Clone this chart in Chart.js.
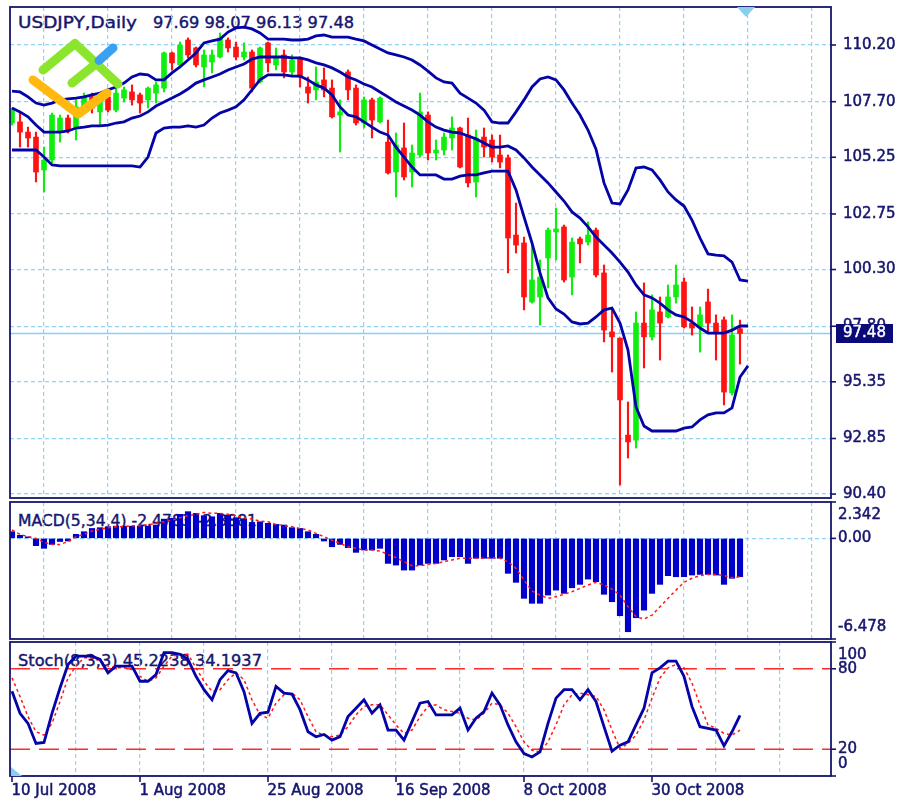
<!DOCTYPE html>
<html>
<head>
<meta charset="utf-8">
<script src="https://cdn.jsdelivr.net/npm/chart.js@4.4.1/dist/chart.umd.min.js"></script>
<style>
  body { margin: 0; background: #fff; }
  #wrap { position: relative; width: 898px; height: 801px; overflow: hidden; }
  #wrap canvas, #wrap svg { position: absolute; left: 0; }
  .ttl { font-family: "DejaVu Sans"; font-size: 15px; fill: #16166e; stroke: #16166e; stroke-width: 0.4; }
</style>
</head>
<body>
<div id="wrap">
  <svg id="titles" width="898" height="801" style="top:0">
    <text class="ttl" x="18" y="28" textLength="119" lengthAdjust="spacingAndGlyphs">USDJPY,Daily</text>
    <text class="ttl" id="ohlcTitle" x="153" y="28" textLength="201" lengthAdjust="spacingAndGlyphs"></text>
    <text class="ttl" x="18" y="526" textLength="239" lengthAdjust="spacingAndGlyphs">MACD(5,34,4) -2.4783 -2.3881</text>
    <text class="ttl" x="18" y="666" textLength="244" lengthAdjust="spacingAndGlyphs">Stoch(8,3,3) 45.2238 34.1937</text>
  </svg>
  <canvas id="priceChart" width="898" height="500" style="top:0"></canvas>
  <canvas id="macdChart" width="898" height="140" style="top:500px"></canvas>
  <canvas id="stochChart" width="898" height="161" style="top:640px"></canvas>
  <svg id="logo" width="898" height="801" style="top:0">
    <g fill="none" stroke-linecap="round" stroke-linejoin="round" stroke-width="9">
      <path d="M43 70 L75 43.5 L118 84" stroke="#8be52c"/>
      <path d="M72 83 L97 63" stroke="#8be52c"/>
      <path d="M99 60.5 L113 48" stroke="#3aa0f0"/>
      <path d="M33 80 L78 114 L107 93" stroke="#ffb90f"/>
    </g>
  </svg>
</div>
<script>
// daily USDJPY candles, one per trading day starting 10 Jul 2008
const opens = [106.76,106.81,106.36,106.14,104.69,105.13,106.36,106.98,106.58,107.33,107.91,107.25,107.91,107.33,107.86,108.13,108.00,107.78,108.08,108.30,
  109.85,109.32,110.42,110.07,109.23,109.45,109.67,110.42,110.11,109.67,109.89,108.57,110.29,109.32,109.76,109.01,109.63,108.35,108.22,108.66,
  108.30,107.11,109.01,108.30,106.76,107.78,106.81,105.92,104.60,105.66,104.60,105.35,107.11,105.44,105.57,106.10,106.54,106.23,104.16,106.14,
  106.01,105.35,105.22,101.82,101.47,98.87,99.09,100.81,101.96,102.18,99.97,101.65,101.51,102.04,100.15,97.55,97.28,93.00,92.78,97.94,
  97.33,98.43,98.21,99.09,99.75,97.94,97.77,98.87,97.94,98.08,94.86,97.69];
const highs = [107.42,107.25,106.58,106.36,105.70,107.20,107.11,107.11,107.78,108.08,108.08,107.91,108.22,108.35,108.35,108.44,108.08,108.35,108.57,109.89,
  109.89,110.33,110.51,110.11,109.98,109.98,110.73,110.51,110.33,110.29,109.98,110.11,110.33,110.07,109.98,109.76,109.67,108.79,109.23,109.19,
  108.66,107.78,109.10,108.44,107.91,107.86,107.91,106.89,106.32,106.76,105.79,108.08,107.25,106.01,106.32,107.03,106.58,106.98,106.45,106.54,
  106.23,106.23,105.35,103.23,101.73,101.38,100.72,102.13,103.01,102.26,101.69,101.73,102.40,102.13,100.50,98.60,97.28,94.46,98.43,99.71,
  99.18,99.09,99.62,100.50,99.93,98.65,98.65,99.44,98.30,98.21,98.30,98.07];
const lows = [106.67,105.70,105.70,104.16,103.72,105.00,105.92,106.32,106.01,107.20,107.20,106.67,107.25,107.25,107.69,107.55,107.20,107.42,107.64,108.13,
  109.10,109.19,109.63,109.23,108.35,108.97,109.63,109.89,109.54,109.54,108.13,108.52,109.01,109.10,108.75,108.88,108.35,107.64,107.78,107.91,
  106.98,105.48,107.78,106.67,106.54,106.10,106.76,104.51,103.50,104.25,103.94,105.26,105.13,105.13,105.35,105.57,104.78,103.94,103.50,105.26,
  105.04,104.78,100.15,101.03,98.52,98.82,97.85,99.49,100.72,99.75,99.18,100.59,101.38,99.97,97.11,95.78,90.80,91.99,92.43,95.96,
  97.19,96.31,98.16,98.82,97.72,97.41,96.66,97.50,96.31,94.33,94.77,96.13];
const closes = [107.33,106.36,106.10,104.60,105.13,107.11,106.98,106.45,107.47,107.91,107.42,107.78,107.33,108.08,108.22,107.78,107.64,108.30,108.44,109.85,
  109.41,110.20,109.76,109.32,109.76,109.76,110.51,110.07,109.67,109.89,108.30,110.07,109.41,109.63,109.01,109.54,108.79,108.08,108.57,108.22,
  107.03,107.25,108.22,106.76,107.78,106.89,107.86,104.56,105.79,104.38,105.44,107.25,105.44,105.57,106.14,106.54,104.82,104.12,106.10,105.70,
  105.26,105.04,101.69,101.38,99.09,99.84,99.97,102.04,102.09,99.84,101.51,101.43,101.82,100.06,97.63,97.33,94.55,92.70,97.94,97.33,
  98.52,97.94,99.09,99.62,97.77,97.72,98.30,97.94,97.55,94.90,97.41,97.48];

// Bollinger bands as drawn (they run one bar further than the candles)
const bbUpper = [108.17,108.13,107.91,107.64,107.55,107.64,107.78,107.82,107.86,107.91,108.00,108.08,108.22,108.35,108.52,108.79,108.92,108.88,108.66,108.66,
  108.97,109.23,109.54,109.85,110.29,110.38,110.46,110.77,110.95,110.99,110.91,110.73,110.46,110.46,110.46,110.42,110.42,110.46,110.60,110.64,
  110.55,110.55,110.55,110.46,110.38,110.20,110.02,109.85,109.76,109.67,109.54,109.32,109.05,108.75,108.57,108.52,108.08,107.86,107.64,107.33,
  106.81,106.76,106.76,107.25,107.78,108.35,108.70,108.79,108.66,108.22,107.64,107.11,106.45,105.61,104.12,103.23,103.19,103.81,104.78,104.82,
  104.69,104.25,103.72,103.37,103.10,102.48,101.69,100.99,100.94,100.90,100.63,99.84,99.79];
const bbMiddle = [107.42,107.25,107.03,106.67,106.36,106.36,106.36,106.41,106.54,106.58,106.63,106.63,106.67,106.76,106.81,106.98,107.07,107.25,107.51,107.69,
  107.86,108.04,108.26,108.52,108.66,108.79,108.92,109.10,109.23,109.36,109.58,109.67,109.67,109.67,109.67,109.63,109.63,109.54,109.41,109.32,
  109.19,109.01,108.79,108.66,108.48,108.35,108.13,107.91,107.69,107.51,107.33,107.11,106.81,106.58,106.45,106.36,106.32,106.19,106.06,105.88,
  105.70,105.70,105.75,105.57,105.22,104.82,104.47,104.12,103.72,103.32,102.84,102.57,102.18,101.73,101.38,101.03,100.63,100.19,99.62,99.18,
  99.05,98.82,98.52,98.30,98.21,97.99,97.72,97.50,97.50,97.50,97.63,97.81,97.81];
const bbLower = [105.57,105.57,105.57,105.57,105.26,104.91,104.87,104.87,104.87,104.87,104.87,104.87,104.87,104.87,104.87,104.87,104.82,105.26,106.32,106.54,
  106.58,106.58,106.63,106.58,106.67,106.98,107.20,107.33,107.47,107.78,108.22,108.66,108.88,108.88,108.88,108.83,108.83,108.66,108.44,108.30,
  108.00,107.47,107.11,107.03,106.81,106.58,106.36,106.23,105.70,105.26,104.82,104.47,104.47,104.47,104.29,104.29,104.42,104.47,104.47,104.56,
  104.64,104.64,104.64,103.81,102.62,101.47,100.15,99.05,98.56,98.34,97.99,97.90,97.94,98.21,98.52,98.60,97.94,96.75,94.24,93.40,
  93.18,93.18,93.18,93.18,93.31,93.36,93.67,93.89,93.98,93.98,94.20,95.56,96.05];

const macdHist = [0.43,0.20,0.10,-0.47,-0.64,-0.39,-0.20,-0.17,0.26,0.43,0.64,0.69,0.75,0.79,0.79,0.79,0.79,0.79,0.86,1.24,
  1.29,1.55,1.72,1.61,1.46,1.39,1.61,1.50,1.33,1.24,1.03,1.07,0.97,0.90,0.86,0.69,0.64,0.43,0.26,-0.17,
  -0.54,-0.39,-0.60,-0.90,-0.75,-0.75,-0.64,-1.61,-1.72,-2.04,-2.04,-1.72,-1.61,-1.61,-1.39,-1.18,-1.18,-1.61,-1.28,-1.28,
  -1.28,-1.28,-2.25,-2.83,-3.86,-4.18,-4.18,-3.65,-3.33,-3.54,-3.18,-2.96,-2.62,-2.79,-3.60,-4.08,-4.98,-6.01,-5.11,-4.62,
  -3.54,-2.96,-2.40,-2.47,-2.47,-2.36,-2.32,-2.32,-2.36,-2.96,-2.57,-2.47];
const macdSignal = [0.54,0.26,0.11,0.00,-0.26,-0.39,-0.39,-0.21,0.11,0.26,0.47,0.58,0.69,0.75,0.75,0.82,0.82,0.86,0.97,1.07,
  1.18,1.33,1.46,1.55,1.67,1.61,1.61,1.55,1.46,1.33,1.24,1.12,1.07,0.90,0.82,0.75,0.64,0.54,0.32,0.11,
  -0.11,-0.32,-0.54,-0.64,-0.75,-0.75,-0.82,-1.03,-1.24,-1.50,-1.76,-1.76,-1.67,-1.61,-1.50,-1.39,-1.28,-1.28,-1.28,-1.28,
  -1.24,-1.28,-1.50,-1.93,-2.68,-3.39,-3.65,-3.86,-3.76,-3.60,-3.43,-3.22,-3.00,-2.83,-3.00,-3.26,-3.65,-4.40,-5.04,-5.19,
  -4.94,-4.40,-3.86,-3.33,-2.83,-2.57,-2.40,-2.32,-2.32,-2.40,-2.53,-2.47];

const stochMain = [63.2,46.8,39.3,24.3,25.0,46.8,65.7,83.2,89.5,89.5,89.5,87.0,77.0,82.0,82.0,82.0,70.7,70.7,75.7,92.0,
  92.0,90.8,87.0,74.4,64.4,56.9,71.9,78.7,77.0,63.0,39.3,46.8,47.6,66.9,61.9,61.1,49.5,33.0,29.3,31.0,
  26.8,29.3,44.3,50.6,56.9,46.8,53.1,34.3,34.3,26.8,40.6,54.4,55.6,45.6,45.6,45.6,50.6,34.3,43.1,48.1,
  61.9,53.1,38.1,25.5,16.7,14.2,18.0,39.3,58.1,64.4,64.4,56.9,64.4,55.6,36.8,18.5,23.0,25.5,38.1,50.6,
  77.0,80.7,85.7,85.7,74.4,51.9,36.8,35.6,34.3,22.5,33.0,45.2];
const stochSignal = [73.2,59.4,44.3,33.0,30.5,39.3,55.6,73.2,82.0,88.2,88.2,85.7,82.0,80.7,80.7,79.5,74.4,70.7,73.2,82.0,
  89.5,90.8,90.8,80.7,70.7,63.2,64.4,71.9,77.0,71.9,56.9,45.6,43.1,54.4,60.6,61.9,56.9,44.3,33.0,30.5,
  29.3,30.5,36.8,45.6,51.9,53.1,53.1,45.6,38.1,31.8,34.3,44.3,51.9,53.1,49.4,48.1,46.8,43.1,41.8,46.8,
  54.4,53.1,46.8,36.8,25.5,19.2,18.0,25.5,38.1,53.1,60.6,61.9,60.6,59.4,49.4,34.3,20.5,24.3,30.5,41.8,
  58.1,73.2,80.7,83.2,80.7,69.4,53.1,38.1,35.6,31.8,30.5,34.2];
const stochLevels = [20, 80];

const priceTicks = [110.20, 107.70, 105.25, 102.75, 100.30, 97.80, 95.35, 92.85, 90.40];
const priceTickLabels = ['110.20', '107.70', '105.25', '102.75', '100.30', '97.80', '95.35', '92.85', '90.40'];
const macdTicks = [2.342, 0, -6.478];
const macdTickLabels = ['2.342', '0.00', '-6.478'];
const stochTicks = [100, 80, 20, 0];
const stochTickLabels = ['100', '80', '20', '0'];
const dateTicks = [0, 16, 32, 48, 64, 80];
const dateLabels = ['10 Jul 2008', '1 Aug 2008', '25 Aug 2008', '16 Sep 2008', '8 Oct 2008', '30 Oct 2008'];
const lastPrice = 97.48;

const X_MIN = -0.25, X_MAX = 102.375;   // 8 px per bar
const GRID = '#8fd3f5';
const NAVY = '#16166e';
const BAND = '#0303a8';
const GREEN = '#10ee10';
const RED = '#ff1212';
const FONT = '15px "DejaVu Sans"';

document.getElementById('ohlcTitle').textContent =
  [opens, highs, lows, closes].map(a => a[a.length - 1].toFixed(2)).join(' ');

const gridBars = [];
for (let b = 8; b <= 96; b += 8) gridBars.push(b);

const pts = (arr) => arr.map((v, i) => ({ x: i, y: v }));

function xAxis() {
  return {
    type: 'linear', min: X_MIN, max: X_MAX, offset: false,
    afterBuildTicks: (a) => { a.ticks = gridBars.map(v => ({ value: v })); },
    afterFit: (a) => { a.height = 0; },
    ticks: { display: false },
    grid: { color: GRID, lineWidth: 1.2, drawTicks: false },
    border: { display: false, dash: [4, 3] }
  };
}
function yAxis(min, max, gridVals) {
  return {
    position: 'right', min: min, max: max,
    afterBuildTicks: (a) => { a.ticks = gridVals.map(v => ({ value: v })); },
    afterFit: (a) => { a.width = 67; },
    ticks: { display: false },
    grid: { color: GRID, lineWidth: 1.2, drawTicks: false },
    border: { display: false, dash: [4, 3] }
  };
}

// slightly heavier text, like the screenshot
function text(ctx, s, x, y) {
  ctx.fillText(s, x, y);
  ctx.strokeText(s, x, y);
}

// frame, right axis labels, price marker, date labels
const panelPlugin = {
  id: 'panel',
  beforeDatasetsDraw(chart, args, o) {
    if (o.priceLine == null) return;
    const { ctx, chartArea: a } = chart;
    const y = chart.scales.y.getPixelForValue(o.priceLine);
    ctx.save();
    ctx.strokeStyle = '#87cefa';
    ctx.lineWidth = 1.5;
    ctx.beginPath();
    ctx.moveTo(a.left, y); ctx.lineTo(a.right, y);
    ctx.stroke();
    ctx.restore();
  },
  afterDraw(chart, args, o) {
    const { ctx, chartArea: a } = chart;
    const ys = chart.scales.y, xs = chart.scales.x;
    ctx.save();
    ctx.strokeStyle = NAVY;
    ctx.lineWidth = 1.8;
    ctx.strokeRect(a.left, a.top, a.right - a.left, a.bottom - a.top);

    ctx.font = FONT;
    ctx.fillStyle = NAVY;
    ctx.textAlign = 'left';
    ctx.textBaseline = 'middle';
    o.ticks.forEach((v, i) => {
      const py = ys.getPixelForValue(v);
      ctx.lineWidth = 1.6;
      ctx.beginPath();
      ctx.moveTo(a.right, py); ctx.lineTo(a.right + 5, py);
      ctx.stroke();
      let ly = py;
      if (o.clamp) ly = Math.min(Math.max(py, a.top + 13), a.bottom - 12);
      ctx.lineWidth = 0.5;
      text(ctx, o.labels[i], o.labelX, ly);
    });

    if (o.priceLine != null) {
      const py = ys.getPixelForValue(o.priceLine);
      ctx.fillStyle = '#0a0a78';
      ctx.fillRect(a.right + 5, py - 9.5, 57, 19);
      ctx.fillStyle = '#ffffff';
      ctx.strokeStyle = '#ffffff';
      ctx.lineWidth = 0.4;
      text(ctx, o.priceLine.toFixed(2), o.labelX, py);
      // chart shift marker
      ctx.fillStyle = '#87cef0';
      ctx.beginPath();
      ctx.moveTo(a.right - 94, a.top); ctx.lineTo(a.right - 76, a.top); ctx.lineTo(a.right - 85, a.top + 10);
      ctx.closePath(); ctx.fill();
    }

    if (o.dates) {
      ctx.fillStyle = NAVY;
      o.dates.forEach((b, i) => {
        const px = xs.getPixelForValue(b);
        ctx.lineWidth = 1.6;
        ctx.beginPath();
        ctx.moveTo(px, a.bottom); ctx.lineTo(px, a.bottom + 6);
        ctx.stroke();
        ctx.lineWidth = 0.5;
        text(ctx, o.dateLabels[i], px - 0.5, a.bottom + 15);
      });
      ctx.fillStyle = '#87cef0';
      ctx.beginPath();
      ctx.moveTo(a.left + 1, a.bottom - 9); ctx.lineTo(a.left + 1, a.bottom); ctx.lineTo(a.left + 12, a.bottom);
      ctx.closePath(); ctx.fill();
    }
    ctx.restore();
  }
};

const common = {
  responsive: false,
  animation: false,
  devicePixelRatio: 1,
  events: [],
};

const candleColors = closes.map((c, i) => (c >= opens[i] ? GREEN : RED));
const bandSet = (arr) => ({
  type: 'line', data: pts(arr), borderColor: BAND, borderWidth: 2.8,
  pointRadius: 0, tension: 0, fill: false
});

new Chart(document.getElementById('priceChart'), {
  type: 'bar',
  data: {
    datasets: [
      bandSet(bbUpper),
      bandSet(bbMiddle),
      bandSet(bbLower),
      {
        data: closes.map((c, i) => ({ x: i, y: [opens[i], c] })),
        backgroundColor: candleColors, barThickness: 5, minBarLength: 1.5, grouped: false
      },
      {
        data: highs.map((h, i) => ({ x: i, y: [lows[i], h] })),
        backgroundColor: candleColors, barThickness: 1.5, grouped: false
      }
    ]
  },
  options: Object.assign({}, common, {
    layout: { padding: { left: 10, top: 7, right: 0, bottom: 2 } },
    scales: { x: xAxis(), y: yAxis(90.227, 111.875, priceTicks) },
    plugins: {
      legend: { display: false }, tooltip: { enabled: false },
      panel: { ticks: priceTicks, labels: priceTickLabels, labelX: 843, clamp: false, priceLine: lastPrice }
    }
  }),
  plugins: [panelPlugin]
});

new Chart(document.getElementById('macdChart'), {
  type: 'bar',
  data: {
    datasets: [
      {
        type: 'line', data: pts(macdSignal), borderColor: '#ff1a1a', borderWidth: 1.5,
        borderDash: [3, 3], pointRadius: 0, tension: 0, fill: false
      },
      { data: pts(macdHist), backgroundColor: '#0000c8', barThickness: 5.5, grouped: false }
    ]
  },
  options: Object.assign({}, common, {
    layout: { padding: { left: 10, top: 2, right: 0, bottom: 1 } },
    scales: { x: xAxis(), y: yAxis(-6.478, 2.342, [0]) },
    plugins: {
      legend: { display: false }, tooltip: { enabled: false },
      panel: { ticks: macdTicks, labels: macdTickLabels, labelX: 838, clamp: true }
    }
  }),
  plugins: [panelPlugin]
});

new Chart(document.getElementById('stochChart'), {
  type: 'line',
  data: {
    datasets: [
      { data: pts(stochMain), borderColor: BAND, borderWidth: 2.8, pointRadius: 0, tension: 0, fill: false },
      {
        data: pts(stochSignal), borderColor: '#ff1a1a', borderWidth: 1.5, borderDash: [3, 3],
        pointRadius: 0, tension: 0, fill: false
      },
      ...stochLevels.map(l => ({
        data: [{ x: X_MIN, y: l }, { x: X_MAX, y: l }], borderColor: '#ff2a2a', borderWidth: 1.5,
        borderDash: [20, 9], pointRadius: 0, fill: false
      }))
    ]
  },
  options: Object.assign({}, common, {
    layout: { padding: { left: 10, top: 2, right: 0, bottom: 25 } },
    scales: { x: xAxis(), y: yAxis(0, 100, [0]) },
    plugins: {
      legend: { display: false }, tooltip: { enabled: false },
      panel: {
        ticks: stochTicks, labels: stochTickLabels, labelX: 838, clamp: true,
        dates: dateTicks, dateLabels: dateLabels
      }
    }
  }),
  plugins: [panelPlugin]
});
</script>
</body>
</html>
